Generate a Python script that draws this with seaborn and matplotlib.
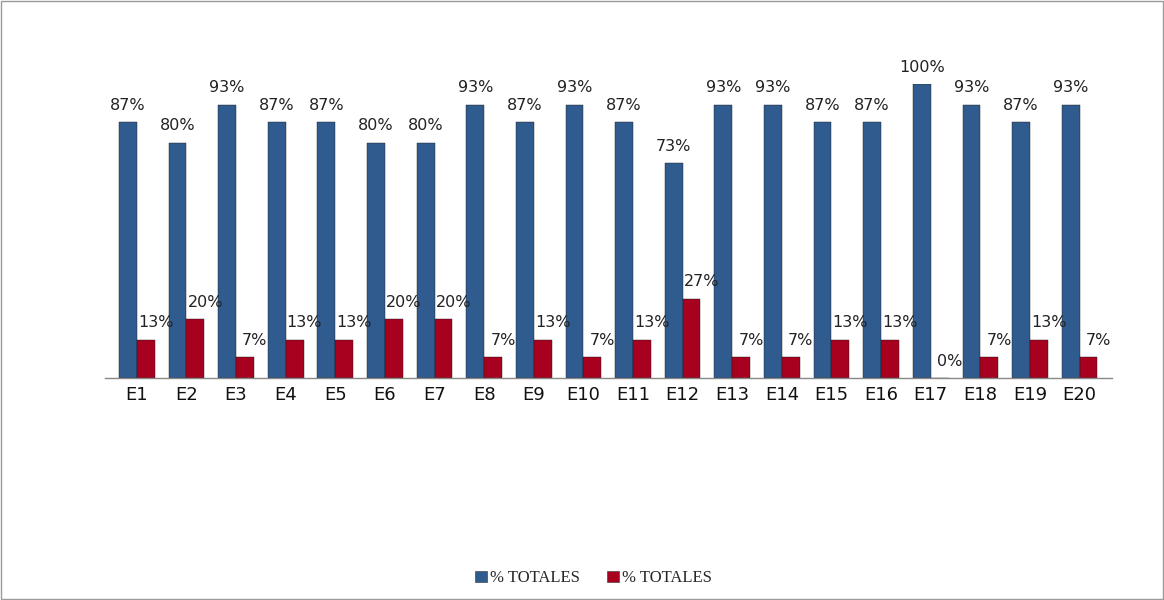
import matplotlib
matplotlib.use("Agg")
import matplotlib.pyplot as plt
import seaborn as sns
import pandas as pd
from matplotlib.patches import Rectangle, Patch

categories = ["E1", "E2", "E3", "E4", "E5", "E6", "E7", "E8", "E9", "E10",
              "E11", "E12", "E13", "E14", "E15", "E16", "E17", "E18", "E19", "E20"]
serie_azul = [87, 80, 93, 87, 87, 80, 80, 93, 87, 93, 87, 73, 93, 93, 87, 87, 100, 93, 87, 93]
serie_roja = [13, 20, 7, 13, 13, 20, 20, 7, 13, 7, 13, 27, 7, 7, 13, 13, 0, 7, 13, 7]
legend_labels = ["% TOTALES", "% TOTALES"]
colors = ["#2F5B8F", "#A8001F"]

df = pd.concat([
    pd.DataFrame({"cat": categories, "val": serie_azul, "serie": "s1"}),
    pd.DataFrame({"cat": categories, "val": serie_roja, "serie": "s2"}),
])

sns.set_theme(style="white")
fig = plt.figure(figsize=(11.64, 6.0), dpi=100)
ax = fig.add_axes([0.090, 0.37, 0.865, 0.49])
sns.barplot(data=df, x="cat", y="val", hue="serie", palette=colors,
            width=0.72, dodge=True, ax=ax, legend=False, saturation=1,
            edgecolor="#1a1a1a", linewidth=0.3)
ax.set_xlim(-0.645, len(categories) - 1 + 0.645)
ax.set_ylim(0, 100)
ax.set_xlabel("")
ax.set_ylabel("")
ax.set_yticks([])
for s in ["top", "right", "left"]:
    ax.spines[s].set_visible(False)
ax.spines["bottom"].set_color("#888888")
ax.spines["bottom"].set_linewidth(1.0)
ax.tick_params(axis="x", length=0, pad=6, labelsize=13, labelcolor="#111111")

for i, cont in enumerate(ax.containers):
    for bar, v in zip(cont, serie_azul if i == 0 else serie_roja):
        cx = bar.get_x() + bar.get_width() / 2
        dx = 0 if i == 0 else 0.2
        ax.text(cx + dx, bar.get_height() + 3.2, f"{v}%", ha="center", va="bottom",
                fontsize=11.5, color="#222222", clip_on=False)

handles = [Patch(facecolor=c, edgecolor="#333333", linewidth=0.4) for c in colors]
fig.legend(handles, legend_labels, loc="center", bbox_to_anchor=(0.51, 0.036),
           ncol=2, frameon=False, prop={"family": "Liberation Serif", "size": 12},
           handlelength=0.7, handleheight=0.7, handletextpad=0.2, columnspacing=1.6)

fig.patches.append(Rectangle((0.001, 0.001), 0.998, 0.998, transform=fig.transFigure,
                             fill=False, edgecolor="#9a9a9a", linewidth=1.0))
fig.savefig("out.png", dpi=100)
